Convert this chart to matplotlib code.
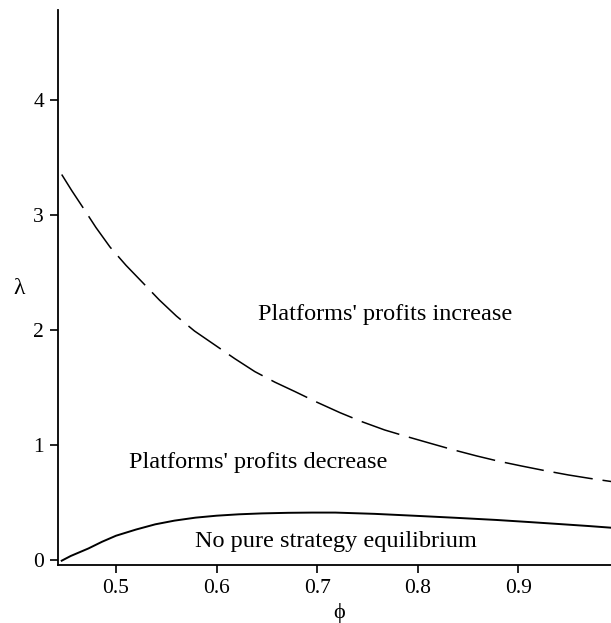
import matplotlib
matplotlib.use("Agg")
import matplotlib.pyplot as plt

plt.rcParams['font.family'] = ['Liberation Serif', 'DejaVu Serif']

# === Data ===
phi_upper = [0.446, 0.456, 0.4675, 0.480, 0.494, 0.510, 0.527, 0.543, 0.560,
             0.578, 0.598, 0.618, 0.638, 0.658, 0.678, 0.700, 0.7227, 0.745,
             0.767, 0.790, 0.812, 0.835, 0.8586, 0.880, 0.903, 0.926, 0.9496,
             0.971, 0.993]
lam_upper = [3.35, 3.21, 3.058, 2.89, 2.72, 2.56, 2.406, 2.26, 2.12,
             1.99, 1.87, 1.75, 1.637, 1.545, 1.463, 1.37, 1.28, 1.20,
             1.13, 1.07, 1.015, 0.958, 0.904, 0.859, 0.817, 0.777, 0.739,
             0.709, 0.681]

phi_lower = [0.446, 0.455, 0.4725, 0.486, 0.5, 0.52, 0.539, 0.558, 0.579,
             0.60, 0.622, 0.645, 0.671, 0.695, 0.718, 0.757, 0.7955, 0.837,
             0.878, 0.912, 0.9447, 0.970, 0.993]
lam_lower = [-0.006, 0.035, 0.10, 0.158, 0.211, 0.265, 0.31, 0.342, 0.368,
             0.385, 0.397, 0.405, 0.41, 0.412, 0.412, 0.401, 0.385, 0.367,
             0.348, 0.329, 0.31, 0.295, 0.28]

x_ticks = [0.5, 0.6, 0.7, 0.8, 0.9]
y_ticks = [0, 1, 2, 3, 4]

region_labels = ["Platforms' profits increase", "Platforms' profits decrease",
                 "No pure strategy equilibrium"]
label_x = [0.767, 0.641, 0.7187]
label_y = [2.13, 0.843, 0.165]

# === Plot ===
fig = plt.figure(figsize=(6.11, 6.23), dpi=100)
ax = fig.add_axes([0.0949, 0.0931, 0.9051, 0.8909])

ax.plot(phi_upper, lam_upper, color="black", lw=1.1, dashes=(26, 6.5))
ax.plot(phi_lower, lam_lower, color="black", lw=1.4)

for txt, x, y in zip(region_labels, label_x, label_y):
    ax.text(x, y, txt, ha="center", va="center", fontsize=17.5)

ax.set_xlim(0.4423, 0.992)
ax.set_ylim(-0.0435, 4.78)
ax.set_xticks(x_ticks)
ax.set_xticklabels([str(v) for v in x_ticks])
ax.set_yticks(y_ticks)

ax.spines['top'].set_visible(False)
ax.spines['right'].set_visible(False)
for s in ['left', 'bottom']:
    ax.spines[s].set_linewidth(1.3)
ax.tick_params(direction="out", length=6, width=1.2, labelsize=15.5, pad=4)

xl = ax.set_xlabel("ϕ", fontsize=16)
yl = ax.set_ylabel("λ", fontsize=17, rotation=0)
xl.set_va("center")
yl.set_va("center")
yl.set_ha("center")
ax.xaxis.set_label_coords(0.508, -0.0865)
ax.yaxis.set_label_coords(-0.0705, 0.499)

fig.savefig("out.png", dpi=100)
